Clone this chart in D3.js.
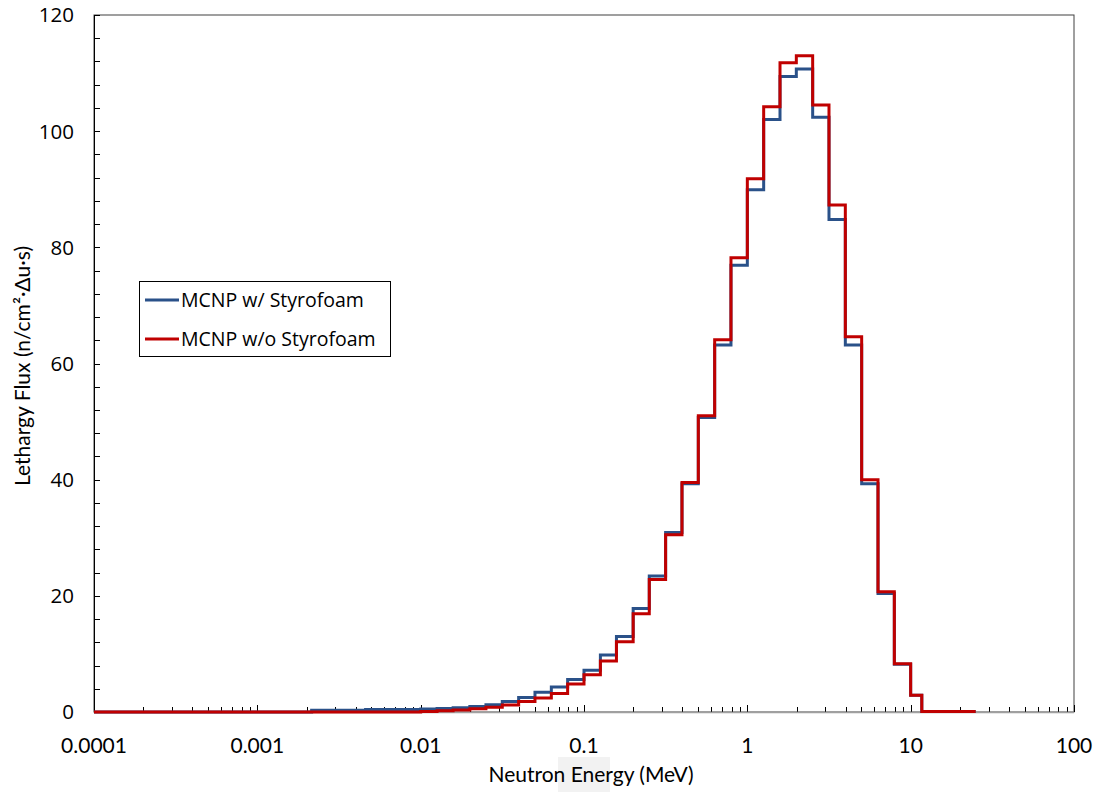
<!DOCTYPE html>
<html><head><meta charset="utf-8">
<script src="https://cdn.jsdelivr.net/npm/d3@7"></script>
<style>body{margin:0;background:#fff}</style>
</head><body>
<svg id="c" width="1104" height="792"></svg>
<script>
// Bin lower edges (MeV); last edge closes final bin
const binEdges = [0.0001, 0.00215, 0.0046, 0.01, 0.0126, 0.0158, 0.02, 0.0251, 0.0316, 0.0398, 0.0501, 0.0631, 0.0794,
  0.1, 0.126, 0.158, 0.2, 0.251, 0.316, 0.398, 0.501, 0.631, 0.794,
  1.0, 1.259, 1.585, 1.995, 2.512, 3.162, 3.981, 5.012, 6.310, 7.943,
  10.0, 11.7, 25.0];
const blueVals = [0, 0.3, 0.45, 0.5, 0.6, 0.75, 0.95, 1.25, 1.8, 2.5, 3.4, 4.3, 5.6,
  7.2, 9.8, 13.0, 17.8, 23.4, 30.9, 39.3, 50.7, 63.2, 76.9,
  89.9, 102.0, 109.4, 110.7, 102.4, 84.8, 63.2, 39.3, 20.4, 8.2,
  2.9, 0.1];
const redVals = [0, 0, 0, 0.1, 0.2, 0.35, 0.55, 0.8, 1.2, 1.8, 2.4, 3.2, 4.8,
  6.4, 8.8, 12.1, 16.9, 22.8, 30.5, 39.5, 51.0, 64.1, 78.2,
  91.8, 104.2, 111.8, 113.0, 104.5, 87.3, 64.6, 40.0, 20.7, 8.3,
  2.9, 0.1];
const xTicks = [0.0001, 0.001, 0.01, 0.1, 1, 10, 100];
const xTickLabels = ["0.0001", "0.001", "0.01", "0.1", "1", "10", "100"];
const yTicks = [0, 20, 40, 60, 80, 100, 120];
const seriesNames = ["MCNP w/ Styrofoam", "MCNP w/o Styrofoam"];
const seriesColors = ["#2a5189", "#c00000"];

const svg = d3.select("#c");
const L = 94, R = 1074, T = 15, B = 712;
const x = d3.scaleLog().domain([0.0001, 100]).range([L, R]);
const y = d3.scaleLinear().domain([0, 120]).range([B, T]);

// highlight artifact behind x title
svg.append("rect").attr("x", 558).attr("y", 757).attr("width", 52).attr("height", 35).attr("fill", "#f2f2f2");

// border
svg.append("rect").attr("x", L).attr("y", T).attr("width", R - L).attr("height", B - T)
  .attr("fill", "none").attr("stroke", "#404040").attr("stroke-width", 1);

// y minor ticks
const yMinor = d3.range(0, 121, 4);
svg.append("g").selectAll("line").data(yMinor).join("line")
  .attr("x1", L).attr("x2", L + 6).attr("y1", d => Math.round(y(d)) + 0.5).attr("y2", d => Math.round(y(d)) + 0.5)
  .attr("stroke", "#000").attr("stroke-width", 1);
// left axis line
svg.append("line").attr("x1", L + 0.5).attr("x2", L + 0.5).attr("y1", T).attr("y2", B).attr("stroke", "#000");

// y labels
svg.append("g").selectAll("text").data(yTicks).join("text")
  .attr("x", 74).attr("y", d => y(d)).attr("dy", "0.36em").attr("text-anchor", "end")
  .attr("font-family", "Open Sans, sans-serif").attr("font-size", 20.5).attr("fill", "#000")
  .text(d => d);

// x ticks (major + minor)
const xMinor = [];
for (let e = -4; e < 2; e++) for (let m = 2; m <= 9; m++) xMinor.push(m * Math.pow(10, e));
svg.append("g").selectAll("line").data(xMinor).join("line")
  .attr("x1", d => Math.round(x(d)) + 0.5).attr("x2", d => Math.round(x(d)) + 0.5)
  .attr("y1", B).attr("y2", B - 5).attr("stroke", "#000").attr("stroke-width", 1);
svg.append("g").selectAll("line").data(xTicks).join("line")
  .attr("x1", d => Math.round(x(d)) + 0.5).attr("x2", d => Math.round(x(d)) + 0.5)
  .attr("y1", B).attr("y2", B - 7).attr("stroke", "#000").attr("stroke-width", 1);
// bottom axis
svg.append("line").attr("x1", L).attr("x2", R).attr("y1", B + 0.5).attr("y2", B + 0.5)
  .attr("stroke", "#a0a0a0").attr("stroke-width", 1.5);

svg.append("g").selectAll("text").data(xTicks).join("text")
  .attr("x", d => x(d)).attr("y", 745).attr("dy", "0.36em").attr("text-anchor", "middle")
  .attr("font-family", "Lato, sans-serif").attr("font-size", 21).attr("fill", "#000")
  .text((d, i) => xTickLabels[i]);

// series step lines
function stepPts(vals) {
  const pts = vals.map((v, i) => [binEdges[i], v]);
  pts.push([binEdges[binEdges.length - 1], vals[vals.length - 1]]);
  return pts;
}
const line = d3.line().x(d => x(d[0])).y(d => y(d[1])).curve(d3.curveStepAfter);
[blueVals, redVals].forEach((vals, i) => {
  svg.append("path").attr("d", line(stepPts(vals))).attr("fill", "none")
    .attr("stroke", seriesColors[i]).attr("stroke-width", 3).attr("stroke-linejoin", "miter");
});

// axis titles
svg.append("text").attr("x", 591).attr("y", 774).attr("dy", "0.36em").attr("text-anchor", "middle")
  .attr("font-family", "Lato, sans-serif").attr("font-size", 21).text("Neutron Energy (MeV)");
svg.append("text").attr("transform", "translate(22,366) rotate(-90)").attr("dy", "0.36em").attr("text-anchor", "middle")
  .attr("font-family", "Lato, sans-serif").attr("font-size", 21).text("Lethargy Flux (n/cm²·Δu·s)");

// legend
const lg = svg.append("g");
lg.append("rect").attr("x", 139.5).attr("y", 281.5).attr("width", 251).attr("height", 75)
  .attr("fill", "#fff").attr("stroke", "#000").attr("stroke-width", 1);
seriesNames.forEach((n, i) => {
  const yy = 300 + i * 39;
  lg.append("line").attr("x1", 145).attr("x2", 179).attr("y1", yy).attr("y2", yy)
    .attr("stroke", seriesColors[i]).attr("stroke-width", 3);
  lg.append("text").attr("x", 181).attr("y", yy).attr("dy", "0.36em")
    .attr("font-family", "Open Sans, sans-serif").attr("font-size", 19.5).text(n);
});
</script>
</body></html>
